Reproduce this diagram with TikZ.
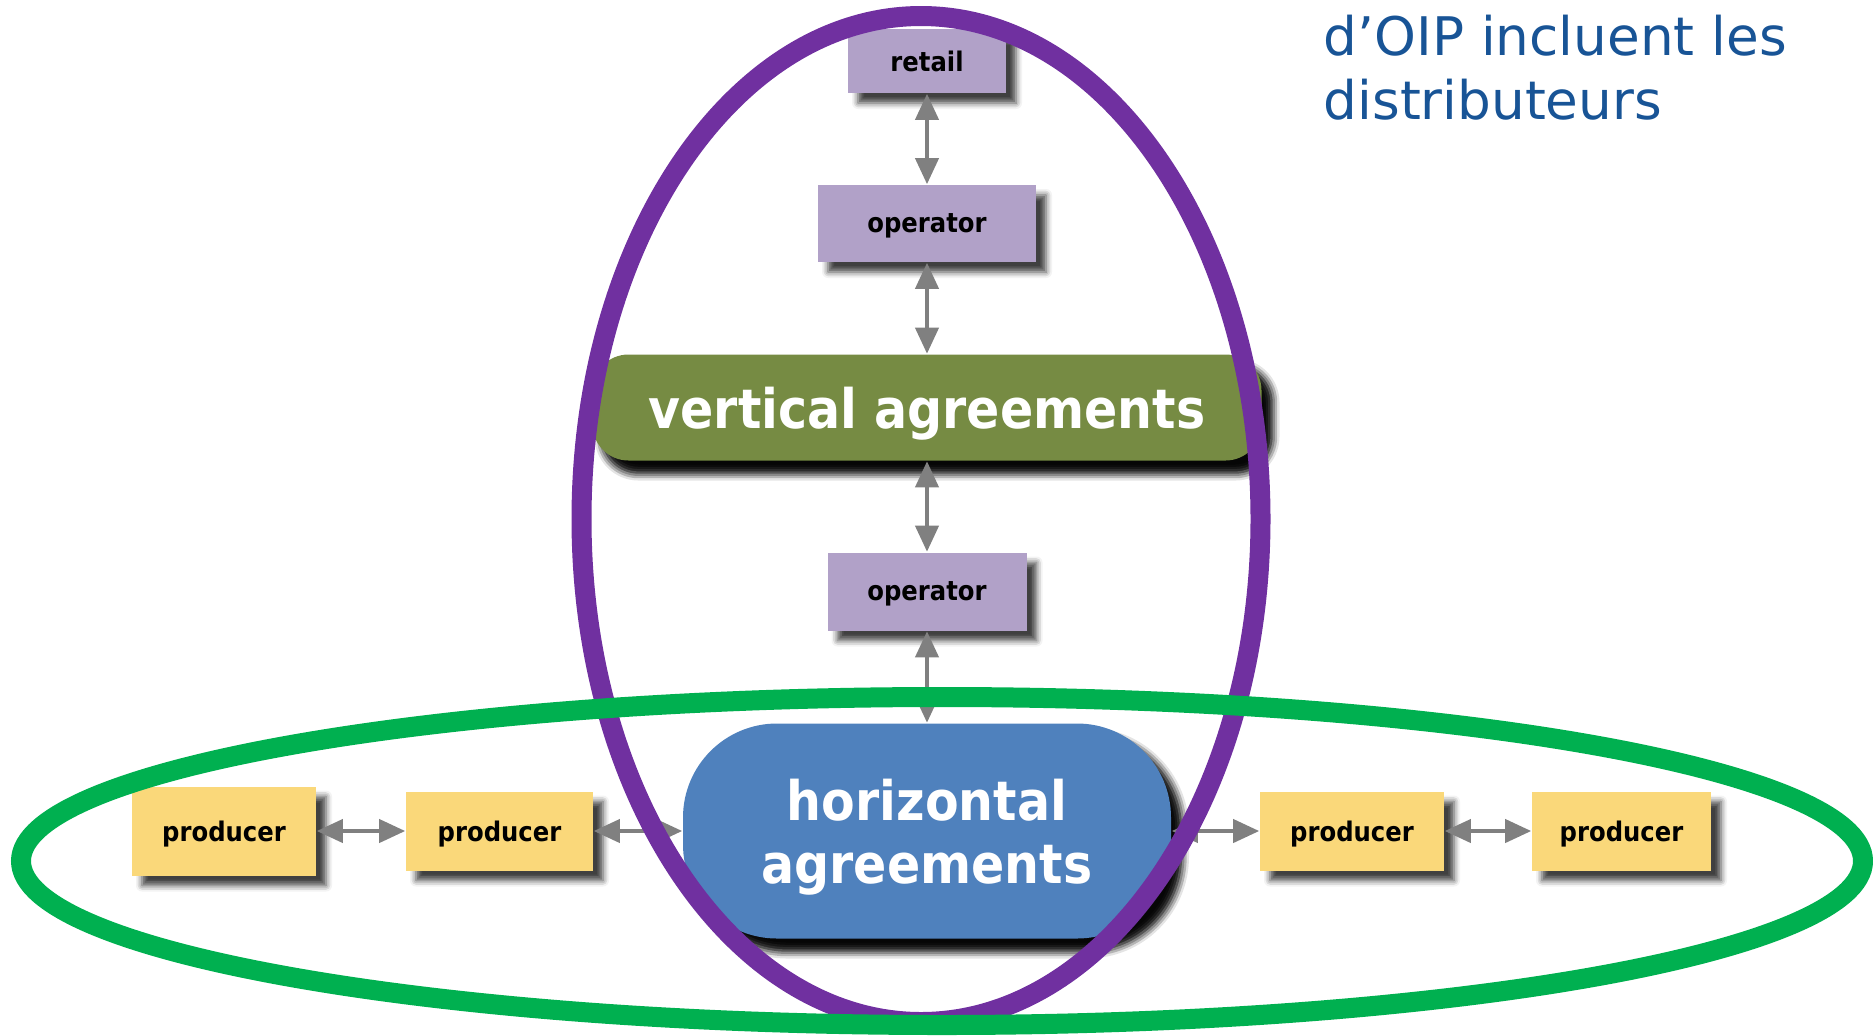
\documentclass[tikz,border=0pt]{standalone}
\usepackage{fontspec}
\usepackage{tikz}
\usepackage{xcolor}
\usetikzlibrary{arrows.meta,shadows.blur}
\newfontfamily\boxfont[FakeStretch=0.9]{DejaVu Sans}
\newfontfamily\notefont{DejaVu Sans}
\definecolor{lilac}{RGB}{177,161,200}
\definecolor{agreegreen}{RGB}{118,139,67}
\definecolor{agreeblue}{RGB}{79,129,189}
\definecolor{prodyellow}{RGB}{250,216,122}
\definecolor{ringpurple}{RGB}{112,48,160}
\definecolor{ringgreen}{RGB}{0,176,80}
\definecolor{linkgray}{RGB}{128,128,128}
\definecolor{noteblue}{RGB}{24,84,150}

\begin{document}
\begin{tikzpicture}[x=0.5pt, y=-0.5pt, thick,
  box/.style = {inner sep=0pt, text depth=0pt, font=\boxfont\bfseries\fontsize{13.5}{16}\selectfont, blur shadow={shadow xshift=5pt, shadow yshift=-5pt, shadow blur radius=3pt, shadow opacity=75}},
  op/.style = {box, fill=lilac},
  prod/.style = {box, fill=prodyellow, minimum height=39.5pt},
  agree/.style = {box, text=white, align=center, font=\boxfont\bfseries\fontsize{27.25}{31.5}\selectfont, blur shadow={shadow xshift=5pt, shadow yshift=-6pt, shadow blur radius=4pt, shadow opacity=85}},
  link/.style = {{Triangle[length=13pt,width=11.5pt]}-{Triangle[length=13pt,width=11.5pt]}, draw=linkgray, line width=2pt},
  ring/.style = {line width=10pt},
  note/.style = {inner sep=0pt, text=noteblue, font=\notefont\fontsize{26.6}{32}\selectfont}]
          \useasboundingbox (0,0) rectangle (1873,1035);
          \node[op, minimum width=79pt, minimum height=32pt] (retail) at (927,61) {retail};
          \node[op, minimum width=109pt, minimum height=38.5pt] (op_1) [below of=retail, node distance=81.25pt] {operator};
          \node[agree, fill=agreegreen, minimum width=334.5pt, minimum height=53pt, rounded corners=18pt] (vert) [below of=op_1, node distance=92pt] {vertical agreements};
          \node[op, minimum width=99.5pt, minimum height=39pt] (op_2) [below of=vert, node distance=92pt] {operator};
          \node[agree, fill=agreeblue, minimum width=244pt, minimum height=107.5pt, rounded corners=47pt] (horiz) [below of=op_2, node distance=119.75pt] {horizontal\\agreements};
          \node[prod, minimum width=93.5pt] (prod_2) [left of=horiz, node distance=213.75pt] {producer};
          \node[prod, minimum width=92pt, minimum height=44.5pt] (prod_1) [left of=prod_2, node distance=137.75pt] {producer};
          \node[prod, minimum width=92pt] (prod_3) [right of=horiz, node distance=212.5pt] {producer};
          \node[prod, minimum width=89.5pt] (prod_4) [right of=prod_3, node distance=134.75pt] {producer};

          \draw[link] (retail) -- (op_1);
          \draw[link] (op_1) -- (vert);
          \draw[link] (vert) -- (op_2);
          \draw[link] (op_2) -- (horiz);
          \draw[link] (prod_1) -- (prod_2);
          \draw[link] (prod_2) -- (horiz);
          \draw[link] (horiz) -- (prod_3);
          \draw[link] (prod_3) -- (prod_4);

          \draw[ring, ringpurple] (921,519) ellipse [x radius=339.5, y radius=503];
          \draw[ring, ringgreen] (942,861) ellipse [x radius=921, y radius=164];

          \node[note, anchor=base west] (note_1) at (1323,55) {d’OIP incluent les};
          \node[note, anchor=base west] (note_2) at (1323,119) {distributeurs};
        \end{tikzpicture}
\end{document}
